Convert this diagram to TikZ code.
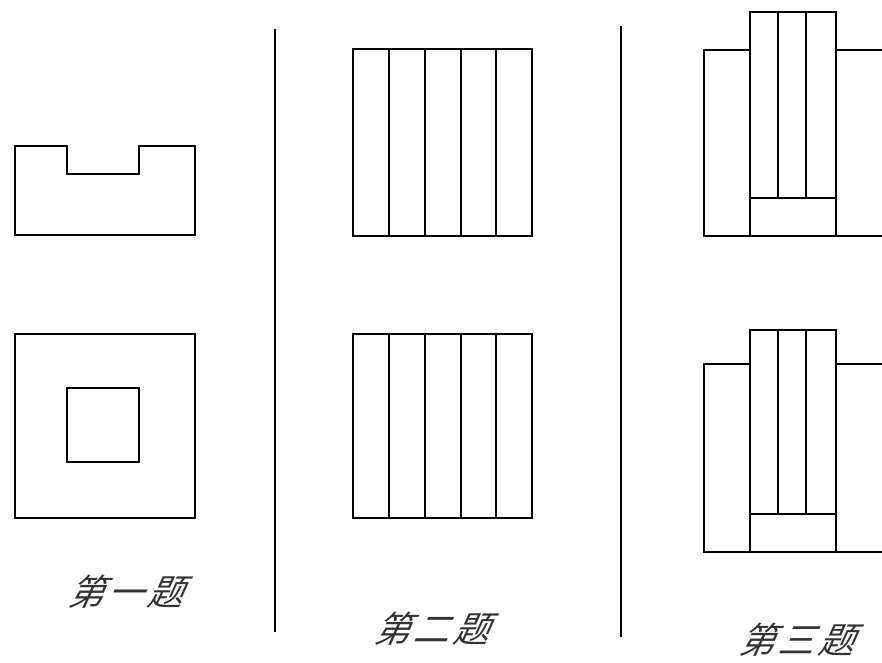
\documentclass[tikz,border=0pt]{standalone}
\usepackage{fontspec}
\newfontfamily\cjk[FakeSlant=0.45,LetterSpace=9]{Noto Sans CJK SC}
\tikzset{
  ln/.style={draw=black, line width=0.95pt, line cap=rect},
  captext/.style={font=\cjk\fontsize{27}{27}\selectfont, text=black!80, inner sep=0pt, anchor=center}
}
\begin{document}
\begin{tikzpicture}[x=0.75pt,y=-0.75pt]
\useasboundingbox (0,0) rectangle (882,663);
\fill[white] (0,0) rectangle (882,663);
% first
\draw[ln] (15,146) -- (67,146) -- (67,174) -- (139,174) -- (139,146) -- (195,146) -- (195,235) -- (15,235) -- cycle;
\draw[ln] (15,334) rectangle (195,518);
\draw[ln] (67,388) rectangle (139,462);
\node[captext] (t1) at (125,592) {第一题};
% dividers
\coordinate (d1a) at (275,30); \coordinate (d1b) at (275,631);
\coordinate (d2a) at (621,27); \coordinate (d2b) at (621,636);
\draw[ln] (d1a) -- (d1b);
\draw[ln] (d2a) -- (d2b);
% second
\draw[ln] (353,49) rectangle (532,236);
\foreach \x in {389,425,461,496} \draw[ln] (\x,49) -- (\x,236);
\draw[ln] (353,334) rectangle (532,518);
\foreach \x in {389,425,461,496} \draw[ln] (\x,334) -- (\x,518);
\node[captext] (t2) at (431,629) {第二题};
% third top
\draw[ln] (882,50) -- (704,50) -- (704,236) -- (882,236);
\draw[ln,fill=white] (750,12) rectangle (836,236);
\draw[ln] (750,198) -- (836,198);
\foreach \x in {778,806} \draw[ln] (\x,12) -- (\x,198);
% third bottom
\draw[ln] (882,364) -- (704,364) -- (704,552) -- (882,552);
\draw[ln,fill=white] (750,330) rectangle (836,552);
\draw[ln] (750,514) -- (836,514);
\foreach \x in {778,806} \draw[ln] (\x,330) -- (\x,514);
\node[captext] (t3) at (796,640) {第三题};
\end{tikzpicture}
\end{document}
